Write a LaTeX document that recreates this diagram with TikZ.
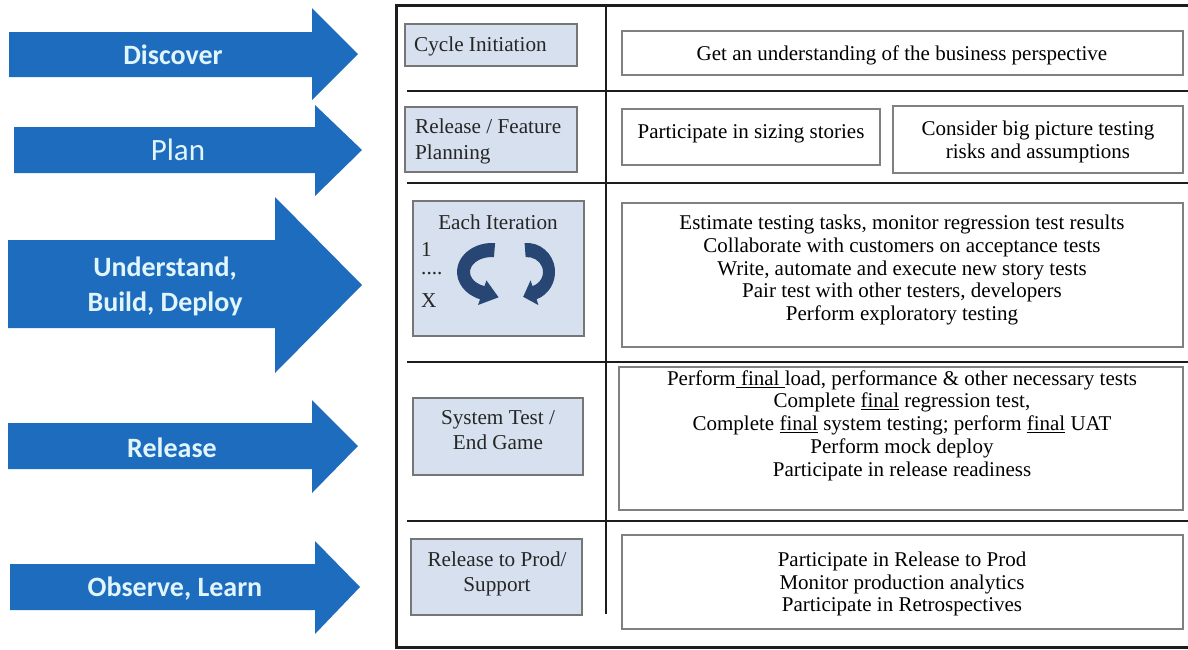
\documentclass[tikz,border=0pt]{standalone}
\usepackage{fontspec}
\setmainfont{Liberation Serif}
\newfontfamily\phasefont{Carlito}
\usetikzlibrary{arrows.meta}

\definecolor{phaseblue}{RGB}{30,108,190}
\definecolor{phasetext}{RGB}{224,245,252}
\definecolor{stagefill}{RGB}{214,224,238}
\definecolor{stageedge}{RGB}{118,118,118}
\definecolor{taskedge}{RGB}{128,128,128}
\definecolor{cyclecol}{RGB}{40,70,115}
\definecolor{rulecol}{RGB}{28,28,28}

\tikzset{
  phasearrow/.style={fill=phaseblue, draw=none},
  phaselabel/.style={font=\phasefont\bfseries\fontsize{28}{35}\selectfont,
    text=phasetext, align=center, inner sep=0pt},
  stagebox/.style={draw=stageedge, line width=1.6pt, fill=stagefill, inner sep=0pt},
  stagetext/.style={font=\fontsize{21.2}{25.5}\selectfont, text=black!85, inner sep=0pt},
  taskbox/.style={draw=taskedge, line width=1.5pt, fill=white, inner sep=0pt},
  tasktext/.style={font=\fontsize{21}{22.7}\selectfont, align=center, inner sep=0pt},
  framerule/.style={draw=rulecol, line width=3pt},
  rowrule/.style={draw=rulecol, line width=2pt},
  colrule/.style={draw=rulecol, line width=1.5pt},
  cycleribbon/.style={fill=cyclecol, draw=none},
}

\begin{document}
\begin{tikzpicture}[x=1pt, y=-1pt]
\useasboundingbox (0,0) rectangle (1188,649);

% ---- phase arrows on the left ----
\fill[phasearrow] (9,32) -- (312,32) -- (312,8) -- (358,54) -- (312,100) -- (312,77) -- (9,77) -- cycle;
\node[phaselabel] (pdiscover) at (173,55) {Discover};

\fill[phasearrow] (14,127) -- (315,127) -- (315,105) -- (362,150) -- (315,196) -- (315,173) -- (14,173) -- cycle;
\node[phaselabel, font=\phasefont\fontsize{31}{36}\selectfont] (pplan) at (178,150) {Plan};

\fill[phasearrow] (8,240) -- (275,240) -- (275,197) -- (362,285) -- (275,373) -- (275,328) -- (8,328) -- cycle;
\node[phaselabel] (pbuild) at (165,286) {Understand,\\Build, Deploy};

\fill[phasearrow] (8,423) -- (312,423) -- (312,400) -- (358,446) -- (312,493) -- (312,469) -- (8,469) -- cycle;
\node[phaselabel] (prelease) at (172,448) {Release};

\fill[phasearrow] (10,564) -- (315,564) -- (315,541) -- (360,587) -- (315,634) -- (315,610) -- (10,610) -- cycle;
\node[phaselabel] (pobserve) at (175,589) {Observe, Learn};

% ---- table frame and rules ----
\draw[framerule] (1188,5) -- (396,5) -- (396,647) -- (1188,647);
\draw[colrule] (606,5) -- (606,614);
\foreach \ry in {91,183,362,521}
  \draw[rowrule] (407,\ry) -- (1188,\ry);

% ---- stage boxes ----
\node[stagebox, minimum width=172pt, minimum height=42pt] (sci) at (491,45) {};
\node[stagetext, anchor=west] (sciT) at (414,46.5) {Cycle Initiation};

\node[stagebox, minimum width=172pt, minimum height=65pt] (srf) at (491,139.5) {};
\node[stagetext, anchor=west, align=left] (srfT) at (415,141.5) {Release / Feature\\Planning};

\node[stagebox, minimum width=171pt, minimum height=135pt] (sei) at (498.5,268.5) {};
\node[stagetext] (seiT) at (498,222.5) {Each Iteration};
\node[stagetext, anchor=west] (sei1) at (421,249) {1};
\node[stagetext, anchor=west] (seidots) at (421,274) {....};
\node[stagetext, anchor=west] (seiX) at (421,301) {X};

% two curved ribbons forming the iteration cycle
\fill[cycleribbon] (495.1,243.1) arc[start angle=275, end angle=110, x radius=35, y radius=29]
  -- (478.0,305.0) -- (498.6,297.3) -- (486.4,280.4) -- (484.5,286.1)
  arc[start angle=110, end angle=275, x radius=22, y radius=15] -- cycle;
\fill[cycleribbon] (524.6,243.1) arc[start angle=265, end angle=430, x radius=28, y radius=29]
  -- (538.4,305.1) -- (523.2,296.8) -- (530.6,280.3) -- (532.5,286.1)
  arc[start angle=430, end angle=265, x radius=16, y radius=15] -- cycle;

\node[stagebox, minimum width=170pt, minimum height=77pt] (sst) at (498,436.5) {};
\node[stagetext, align=center] (sstT) at (498,430) {System Test /\\End Game};

\node[stagebox, minimum width=171pt, minimum height=76pt] (srp) at (496.5,577) {};
\node[stagetext, align=center] (srpT) at (497,574) {Release to Prod/\\Support};

% ---- task boxes ----
\node[taskbox, minimum width=561pt, minimum height=44pt] (t1) at (902.5,53) {};
\node[tasktext] (t1T) at (902,55) {Get an understanding of the business perspective};

\node[taskbox, minimum width=258pt, minimum height=56pt] (t2a) at (751,137) {};
\node[tasktext] (t2aT) at (751,134) {Participate in sizing stories};

\node[taskbox, minimum width=290pt, minimum height=67pt] (t2b) at (1038,139.5) {};
\node[tasktext] (t2bT) at (1038,142) {Consider big picture testing\\risks and assumptions};

\node[taskbox, minimum width=561pt, minimum height=144pt] (t3) at (902.5,275) {};
\node[tasktext] (t3T) at (902,270) {Estimate testing tasks, monitor regression test results\\
  Collaborate with customers on acceptance tests\\
  Write, automate and execute new story tests\\
  Pair test with other testers, developers\\
  Perform exploratory testing};

\node[taskbox, minimum width=564pt, minimum height=143pt] (t4) at (901,438.5) {};
\node[tasktext] (t4T) at (902,425.5) {Perform\underline{\ final\ }load, performance \& other necessary tests\\
  Complete \underline{final} regression test,\\
  Complete \underline{final} system testing; perform \underline{final} UAT\\
  Perform mock deploy\\
  Participate in release readiness};

\node[taskbox, minimum width=561pt, minimum height=94pt] (t5) at (902.5,582) {};
\node[tasktext] (t5T) at (902,584) {Participate in Release to Prod\\
  Monitor production analytics\\
  Participate in Retrospectives};

\end{tikzpicture}
\end{document}
